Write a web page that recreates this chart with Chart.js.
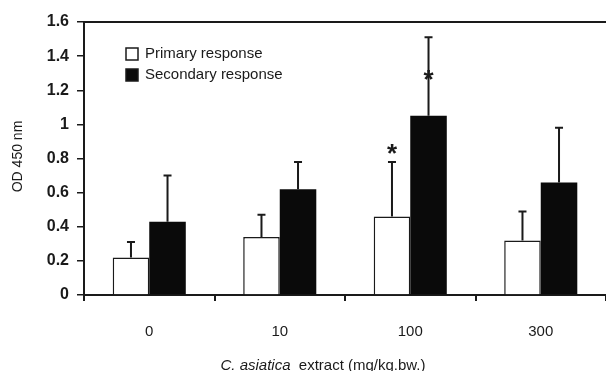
<!DOCTYPE html>
<html>
<head>
<meta charset="utf-8">
<script src="https://cdn.jsdelivr.net/npm/chart.js@4"></script>
<style>
html, body { margin: 0; padding: 0; background: #fff; }
#wrap { width: 606px; height: 371px; }
</style>
</head>
<body>
<div id="wrap"><canvas id="chart"></canvas></div>
<script>
// values
const doses = ['0', '10', '100', '300'];
const primaryMeans = [0.22, 0.34, 0.46, 0.32];
const primaryErr = [0.09, 0.13, 0.32, 0.17];
const secondaryMeans = [0.43, 0.62, 1.05, 0.66];
const secondaryErr = [0.27, 0.16, 0.46, 0.32];
// asterisk level for significant groups (null = none)
const primaryStars = [null, null, 0.87, null];
const secondaryStars = [null, null, 1.30, null];
const yTicks = [0, 0.2, 0.4, 0.6, 0.8, 1, 1.2, 1.4, 1.6];

const ink = '#1a1a1a';
const FONT = '"Liberation Sans", Arial, sans-serif';

const errorBars = {
	id: 'errorBars',
	afterDatasetsDraw(chart) {
		const ctx = chart.ctx;
		const y = chart.scales.y;
		const errs = [primaryErr, secondaryErr];
		const stars = [primaryStars, secondaryStars];
		ctx.save();
		ctx.strokeStyle = ink;
		ctx.fillStyle = ink;
		ctx.lineWidth = 2;
		chart.data.datasets.forEach((ds, di) => {
			const meta = chart.getDatasetMeta(di);
			meta.data.forEach((bar, i) => {
				const top = y.getPixelForValue(ds.data[i] + errs[di][i]);
				ctx.beginPath();
				ctx.moveTo(bar.x, bar.y);
				ctx.lineTo(bar.x, top);
				ctx.moveTo(bar.x - 4, top);
				ctx.lineTo(bar.x + 4, top);
				ctx.stroke();
				if (stars[di][i] != null) {
					ctx.font = 'bold 26px ' + FONT;
					ctx.textAlign = 'center';
					ctx.textBaseline = 'alphabetic';
					ctx.fillText('*', bar.x, y.getPixelForValue(stars[di][i]) + 15);
				}
			});
		});
		ctx.restore();
	}
};

const decorations = {
	id: 'decorations',
	afterDraw(chart) {
		const ctx = chart.ctx;
		const a = chart.chartArea;
		ctx.save();
		// top frame line
		ctx.strokeStyle = ink;
		ctx.lineWidth = 2;
		ctx.beginPath();
		ctx.moveTo(a.left, a.top);
		ctx.lineTo(a.right, a.top);
		ctx.stroke();

		// legend
		ctx.font = '15px ' + FONT;
		ctx.textBaseline = 'middle';
		ctx.textAlign = 'left';
		chart.data.datasets.forEach((ds, i) => {
			const sx = a.left + 42, sy = a.top + 26 + i * 21;
			ctx.fillStyle = ds.backgroundColor;
			ctx.fillRect(sx, sy, 12, 12);
			ctx.lineWidth = 1.5;
			ctx.strokeStyle = ink;
			ctx.strokeRect(sx, sy, 12, 12);
			ctx.fillStyle = ink;
			ctx.fillText(ds.label, sx + 19, sy + 6);
		});

		// y axis title
		ctx.save();
		ctx.translate(18, (a.top + a.bottom) / 2 - 2);
		ctx.rotate(-Math.PI / 2);
		ctx.textAlign = 'center';
		ctx.font = '14px ' + FONT;
		ctx.fillText('OD 450 nm', 0, 0);
		ctx.restore();

		// x axis title, italic species name
		const t1 = 'C. asiatica', t2 = '  extract (mg/kg.bw.)';
		ctx.font = 'italic 15px ' + FONT;
		const w1 = ctx.measureText(t1).width;
		ctx.font = '15px ' + FONT;
		const w2 = ctx.measureText(t2).width;
		const x0 = 323 - (w1 + w2) / 2;
		ctx.font = 'italic 15px ' + FONT;
		ctx.fillText(t1, x0, 366);
		ctx.font = '15px ' + FONT;
		ctx.fillText(t2, x0 + w1, 366);
		ctx.restore();
	}
};

new Chart(document.getElementById('chart').getContext('2d'), {
	type: 'bar',
	data: {
		labels: doses,
		datasets: [
			{
				label: 'Primary response',
				data: primaryMeans,
				backgroundColor: '#ffffff',
				borderColor: ink,
				borderWidth: 1.5,
				borderSkipped: 'bottom'
			},
			{
				label: 'Secondary response',
				data: secondaryMeans,
				backgroundColor: '#0a0a0a',
				borderColor: ink,
				borderWidth: 0
			}
		]
	},
	options: {
		responsive: true,
		maintainAspectRatio: false,
		animation: false,
		layout: { padding: { top: 22, right: 0, left: 0, bottom: 0 } },
		plugins: {
			legend: { display: false },
			tooltip: { enabled: false }
		},
		datasets: {
			bar: { categoryPercentage: 0.56, barPercentage: 1.0 }
		},
		scales: {
			x: {
				afterFit: (s) => { s.height = 76; },
				grid: { display: true, drawOnChartArea: false, offset: true, tickLength: 6, color: ink, lineWidth: 2 },
				border: { display: true, color: ink, width: 2 },
				ticks: { color: ink, font: { family: FONT, size: 15 }, padding: 22 }
			},
			y: {
				min: 0,
				max: 1.6,
				afterFit: (s) => { s.width = 84; },
				afterBuildTicks: (s) => { s.ticks = yTicks.map(v => ({ value: v })); },
				grid: { display: true, drawOnChartArea: false, tickLength: 7, color: ink, lineWidth: 1.5 },
				border: { display: true, color: ink, width: 2 },
				ticks: {
					color: ink,
					font: { family: FONT, size: 16, weight: 'bold' },
					padding: 8,
					callback: (v) => String(Math.round(v * 10) / 10)
				}
			}
		}
	},
	plugins: [errorBars, decorations]
});
</script>
</body>
</html>
